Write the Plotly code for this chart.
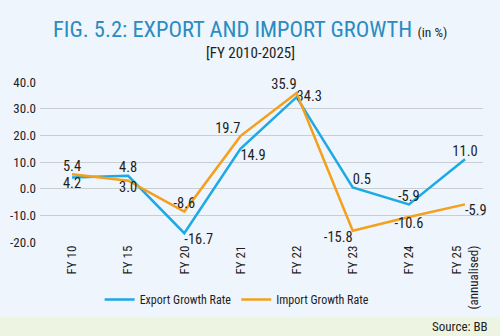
import plotly.graph_objects as go

# Fiscal years on the x axis
years = ["FY 10", "FY 15", "FY 20", "FY 21", "FY 22", "FY 23", "FY 24", "FY 25<br>(annualised)"]

# Growth rates, %
export_growth = [4.2, 4.8, -16.7, 14.9, 34.3, 0.5, -5.9, 11.0]
import_growth = [5.4, 3.0, -8.6, 19.7, 35.9, -15.8, -10.6, -5.9]

y_ticks = [-20, -10, 0, 10, 20, 30, 40]

FONT = "Roboto Condensed, Liberation Sans Narrow, DejaVu Sans Condensed, sans-serif"
BLUE = "#1DA9E4"
ORANGE = "#F4A01C"
INK = "#1E1E1E"

export_pos = ["bottom center", "top center", "bottom right", "bottom right",
              "middle right", "top right", "top center", "top center"]
import_pos = ["top center", "bottom center", "top center", "top left",
              "top left", "bottom left", "bottom center", "bottom right"]

fig = go.Figure()
fig.add_trace(go.Scatter(
    x=years, y=export_growth, name="Export Growth Rate",
    mode="lines+text", line=dict(color=BLUE, width=2.5),
    text=[f"{v:.1f}" for v in export_growth], textposition=export_pos,
    textfont=dict(family=FONT, size=14.5, color=INK), cliponaxis=False,
))
fig.add_trace(go.Scatter(
    x=years, y=import_growth, name="Import Growth Rate",
    mode="lines+text", line=dict(color=ORANGE, width=2.5),
    text=[f"{v:.1f}" for v in import_growth], textposition=import_pos,
    textfont=dict(family=FONT, size=14.5, color=INK), cliponaxis=False,
))

fig.update_layout(
    width=500, height=336,
    margin=dict(l=40, r=17, t=82, b=94, autoexpand=False),
    paper_bgcolor="#EEF5FC", plot_bgcolor="#EEF5FC",
    font=dict(family=FONT, size=13, color=INK),
    showlegend=True,
    legend=dict(orientation="h", x=0.445, xanchor="center", y=-0.36, yanchor="middle",
                itemwidth=30, font=dict(family=FONT, size=12, color=INK),
                bgcolor="rgba(0,0,0,0)"),
    xaxis=dict(range=[-0.57, 7.32], tickangle=-90, showgrid=False, showline=False,
               ticks="", automargin=False,
               tickfont=dict(family=FONT, size=13, color=INK)),
    yaxis=dict(range=[-20, 40], tickvals=y_ticks, ticktext=[f"{v:.1f}" for v in y_ticks],
               showgrid=True, gridcolor="#C9CED5", gridwidth=1, zeroline=False,
               showline=False, ticks="", ticklabelstandoff=3, automargin=False,
               tickfont=dict(family=FONT, size=13, color=INK)),
    shapes=[dict(type="rect", xref="paper", yref="paper",
                 x0=-0.1, x1=1.05, y0=-0.59, y1=-0.467,
                 fillcolor="#EDF5E2", line=dict(width=0), layer="below")],
    annotations=[
        dict(text="FIG. 5.2: EXPORT AND IMPORT GROWTH "
                  "<span style='font-size:13.5px;color:#1E1E1E'>(in %)</span>",
             xref="paper", yref="paper", x=0.475, xanchor="center",
             y=1.33, yanchor="middle", showarrow=False,
             font=dict(family=FONT, size=22.5, color="#2A8CC1")),
        dict(text="[FY 2010-2025]", xref="paper", yref="paper", x=0.475, xanchor="center",
             y=1.18, yanchor="middle", showarrow=False,
             font=dict(family=FONT, size=15, color=INK)),
        dict(text="Source: BB", xref="paper", yref="paper", x=1.015, xanchor="right",
             y=-0.53, yanchor="middle", showarrow=False,
             font=dict(family=FONT, size=13, color=INK)),
    ],
)

fig.write_html("out.html")
